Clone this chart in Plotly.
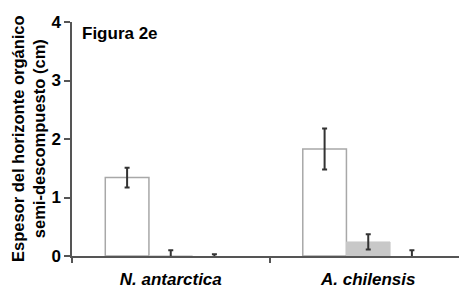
import plotly.graph_objects as go

categories = ["<i>N. antarctica</i>", "<i>A. chilensis</i>"]
series1_vals = [1.34, 1.83]
series1_err = [0.17, 0.35]
series2_vals = [0.0, 0.24]
series2_err = [0.1, 0.13]
series3_vals = [0.0, 0.0]
series3_err = [0.03, 0.1]

FONT = "Liberation Sans, Arial, sans-serif"
err_style = dict(type="data", thickness=2, width=2.5, color="#333333")

# The page body adds an 8px offset, so the figure is 8px smaller each way.
W, H = 459, 281
L, T, B, R = 64, 14, 33, 0
PW = W - L - R

fig = go.Figure()
fig.add_trace(go.Bar(x=categories, y=series1_vals,
                     error_y=dict(array=series1_err, **err_style),
                     marker=dict(color="white", line=dict(color="#a8a8a8", width=1.5))))
fig.add_trace(go.Bar(x=categories, y=series2_vals,
                     error_y=dict(array=series2_err, **err_style),
                     marker=dict(color="#c8c8c8", line=dict(color="#c8c8c8", width=1))))
fig.add_trace(go.Bar(x=categories, y=series3_vals,
                     error_y=dict(array=series3_err, **err_style),
                     marker=dict(color="#555555", line=dict(width=0))))

fig.update_layout(
    width=W, height=H,
    margin=dict(l=L, r=R, t=T, b=B),
    plot_bgcolor="white", paper_bgcolor="white",
    barmode="group", bargap=0.337, bargroupgap=0,
    showlegend=False,
    font=dict(family=FONT, size=17, color="black"),
    xaxis=dict(showline=True, linecolor="#555555", linewidth=1.5,
               ticks="outside", tickson="boundaries", ticklen=5, tickcolor="#555555",
               tickwidth=1.5, ticklabelstandoff=7,
               tickfont=dict(family=FONT, size=17, color="black", weight="bold"),
               range=[-0.5, 1.5]),
    yaxis=dict(range=[0, 4], showline=True, linecolor="#555555", linewidth=1.5,
               ticks="outside", ticklen=6, tickcolor="#555555", tickwidth=1.5,
               tickvals=[0, 1, 2, 3, 4], showgrid=False, zeroline=False,
               tickfont=dict(family=FONT, size=17, color="black", weight="bold")),
    annotations=[
        dict(text="<b>Figura 2e</b>", xref="paper", yref="paper", x=8 / PW, y=1.0,
             xanchor="left", yanchor="top", showarrow=False,
             font=dict(family=FONT, size=17, color="black")),
        dict(text="<b>Espesor del horizonte orgánico<br>semi-descompuesto (cm)</b>",
             xref="paper", yref="paper", x=-44 / PW, y=0.5, xanchor="center",
             yanchor="middle", textangle=-90, showarrow=False,
             font=dict(family=FONT, size=16.5, color="black")),
    ],
)

fig.write_html("out.html")
